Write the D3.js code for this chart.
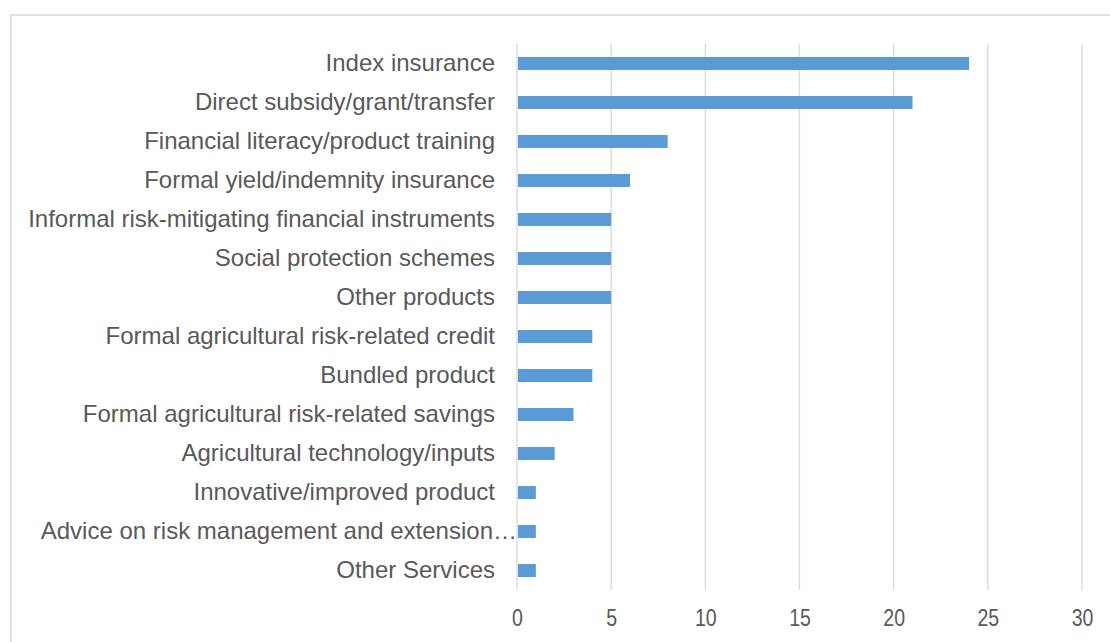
<!DOCTYPE html>
<html>
<head>
<meta charset="utf-8">
<script src="https://cdnjs.cloudflare.com/ajax/libs/d3/7.8.5/d3.min.js"></script>
<style>
body { margin:0; background:#fff; }
svg { display:block; }
</style>
</head>
<body>
<svg></svg>
<script>
var categories = ["Index insurance", "Direct subsidy/grant/transfer", "Financial literacy/product training",
    "Formal yield/indemnity insurance", "Informal risk-mitigating financial instruments",
    "Social protection schemes", "Other products", "Formal agricultural risk-related credit",
    "Bundled product", "Formal agricultural risk-related savings", "Agricultural technology/inputs",
    "Innovative/improved product", "Advice on risk management and extension\u2026", "Other Services"];
var values = [24, 21, 8, 6, 5, 5, 5, 4, 4, 3, 2, 1, 1, 1];
var xTicks = [0, 5, 10, 15, 20, 25, 30];

var screen = {width:1110, height:642};
var margins = {top:44, left:517, right:28, bottom:52};
var graph = {
    width:screen.width-margins.left-margins.right,
    height:screen.height-margins.top-margins.bottom
};

var svg = d3.select("svg")
    .attr("width",screen.width)
    .attr("height",screen.height);

//chart area border (runs off the right and bottom)
svg.append("rect")
    .attr("x",11).attr("y",15)
    .attr("width",1120).attr("height",660)
    .attr("fill","none")
    .attr("stroke","#d9d9d9")
    .attr("stroke-width",1.5);

var xScale = d3.scaleLinear()
    .domain([0,30])
    .range([0,graph.width]);

var yScale = d3.scaleBand()
    .domain(categories)
    .range([0,graph.height])
    .paddingInner(0.667)
    .paddingOuter(0.333);

var g = svg.append("g")
    .attr("transform","translate("+margins.left+","+margins.top+")");

//vertical gridlines
g.selectAll(".grid")
    .data(xTicks)
    .enter()
    .append("line")
    .attr("x1",function(d){return xScale(d);})
    .attr("x2",function(d){return xScale(d);})
    .attr("y1",0)
    .attr("y2",graph.height)
    .attr("stroke","#d9d9d9")
    .attr("stroke-width",1.3);

//bars
g.selectAll(".bar")
    .data(values)
    .enter()
    .append("rect")
    .attr("x",xScale(0)+1)
    .attr("y",function(d,i){return yScale(categories[i]);})
    .attr("width",function(d){return xScale(d)-xScale(0)-1;})
    .attr("height",yScale.bandwidth())
    .attr("fill","#5b9bd5");

//category labels
var yAxis = d3.axisLeft(yScale).tickSize(0).tickPadding(22);
g.append("g")
    .call(yAxis)
    .call(function(a){a.select(".domain").remove();})
    .selectAll("text")
    .attr("fill","#595959")
    .attr("font-family","'Liberation Sans', Arial, sans-serif")
    .attr("font-size","24px")
    .attr("dy","0.33em")
    .attr("x",function(d){return d.indexOf("\u2026")>=0 ? 0 : -22;});

//x axis labels (narrow look, like Calibri)
var xAxis = d3.axisBottom(xScale).tickValues(xTicks).tickSize(0).tickPadding(20);
g.append("g")
    .attr("transform","translate(0,"+graph.height+")")
    .call(xAxis)
    .call(function(a){a.select(".domain").remove();})
    .selectAll("text")
    .attr("fill","#595959")
    .attr("font-family","'Liberation Sans', Arial, sans-serif")
    .attr("font-size","23px")
    .attr("transform","scale(0.85,1)");
</script>
</body>
</html>
